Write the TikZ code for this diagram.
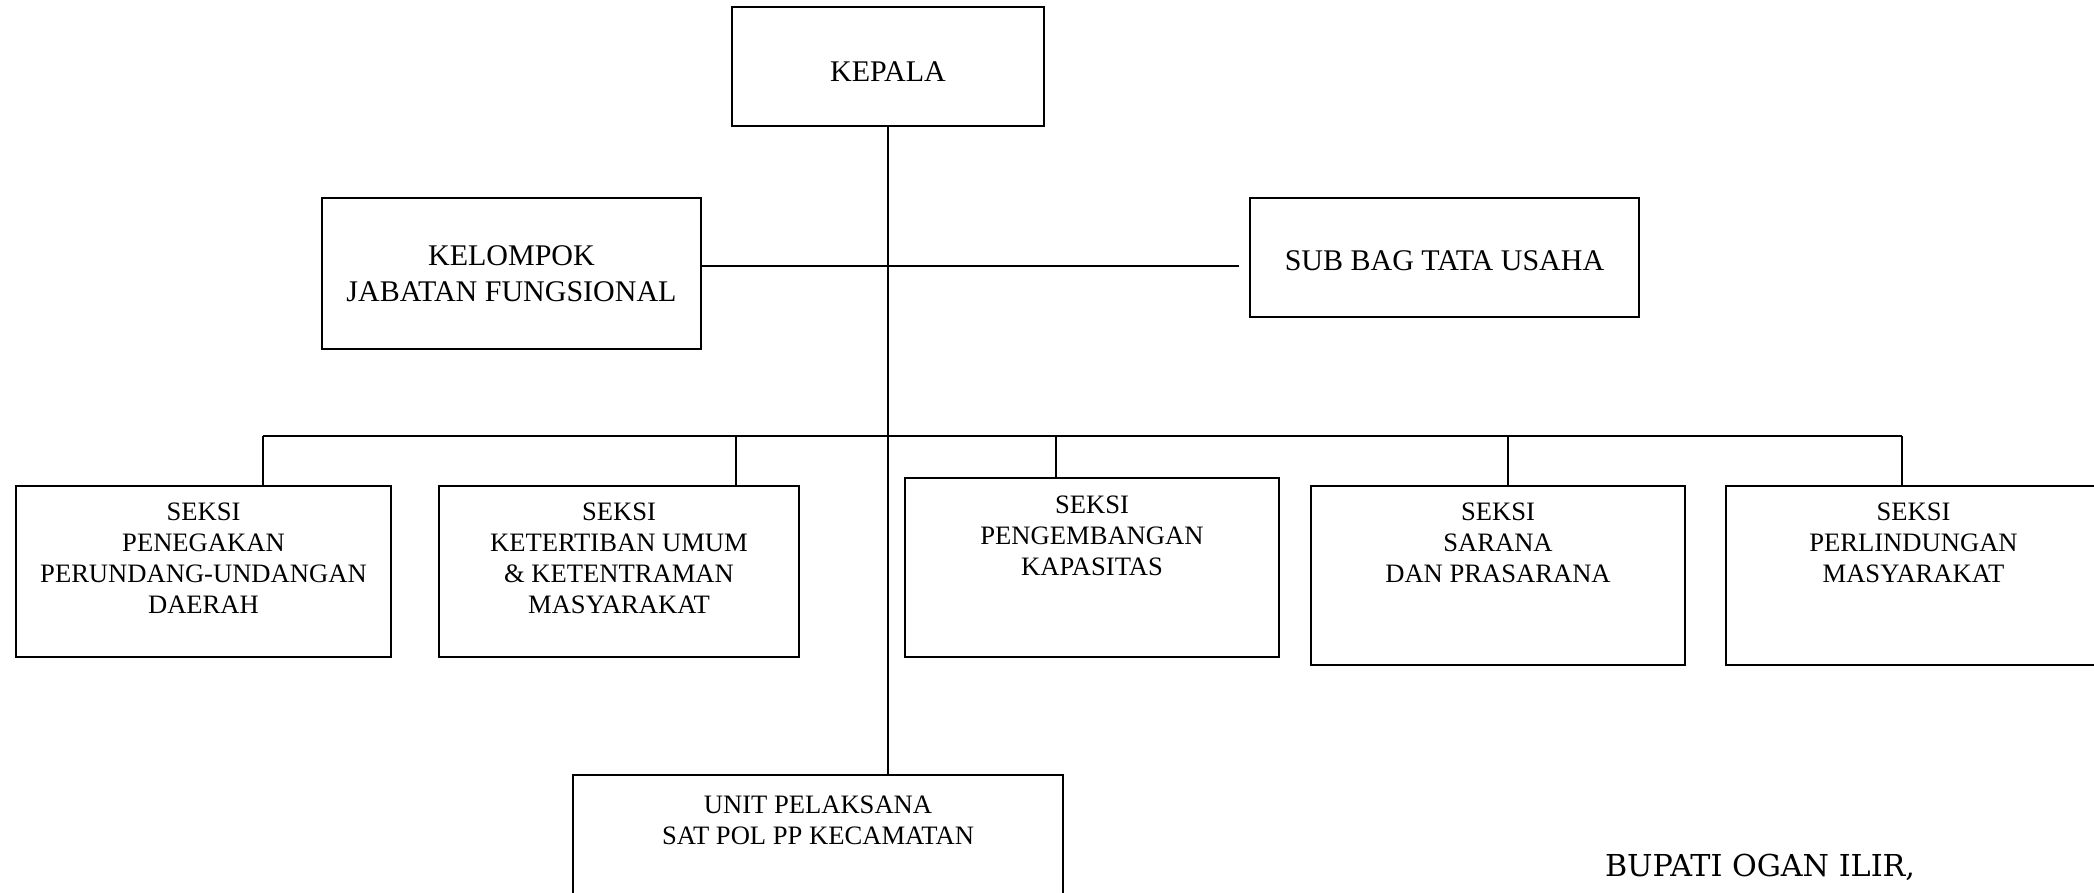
\documentclass[tikz,border=0pt]{standalone}
\usepackage{fontspec}
\setmainfont{Liberation Serif}
\newfontfamily\bupatifont{DejaVu Serif}
\usetikzlibrary{positioning}
\tikzset{
  unitbox/.style={draw=black,line width=0.8pt,rectangle,anchor=north west,outer sep=0pt,inner sep=0pt},% org box
  lbl/.style={align=center,inner sep=0pt,font=\fontsize{13.3}{15.6}\selectfont},% seksi text
  toplbl/.style={align=center,font=\fontsize{15}{18}\selectfont},% upper box text
  link/.style={black,line width=0.6pt},
  bus/.style={black,line width=1pt},
}
\begin{document}
\begin{tikzpicture}[x=0.5pt,y=-0.5pt]
  \useasboundingbox (0,0) rectangle (2094,893);
  % top level
  \node[unitbox,toplbl,text height=15.4pt,minimum width=156pt,minimum height=59.5pt] (kepala) at (732,7) {KEPALA};
  \node[unitbox,toplbl,minimum width=189.5pt,minimum height=75.5pt] (kel) at (322,198) {KELOMPOK\\JABATAN FUNGSIONAL};
  \node[unitbox,toplbl,text height=13.5pt,minimum width=194.5pt,minimum height=59.5pt] (sub) at (1250,198) {SUB BAG TATA USAHA};
  % seksi row
  \node[unitbox,minimum width=187.5pt,minimum height=85.5pt] (s1) at (16,486) {};
  \node[unitbox,minimum width=180pt,minimum height=85.5pt] (s2) at (439,486) {};
  \node[unitbox,minimum width=187pt,minimum height=89.5pt] (s3) at (905,478) {};
  \node[unitbox,minimum width=187pt,minimum height=89.5pt] (s4) at (1311,486) {};
  \node[unitbox,minimum width=187.5pt,minimum height=89.5pt] (s5) at (1726,486) {};
  \node[lbl,below=8pt of s1.north] {SEKSI\\PENEGAKAN\\PERUNDANG-UNDANGAN\\DAERAH};
  \node[lbl,below=8pt of s2.north] {SEKSI\\KETERTIBAN UMUM\\\& KETENTRAMAN\\MASYARAKAT};
  \node[lbl,below=8.5pt of s3.north] {SEKSI\\PENGEMBANGAN\\KAPASITAS};
  \node[lbl,below=8pt of s4.north] {SEKSI\\SARANA\\DAN PRASARANA};
  \node[lbl,below=8pt of s5.north] {SEKSI\\PERLINDUNGAN\\MASYARAKAT};
  % bottom unit
  \node[unitbox,minimum width=245pt,minimum height=70pt] (unit) at (573,775) {};
  \node[lbl,below=10pt of unit.north] {UNIT PELAKSANA\\SAT POL PP KECAMATAN};
  \node[font=\bupatifont\fontsize{15.1}{18}\selectfont,inner sep=0pt] (bupati) at (1760,867) {BUPATI OGAN ILIR,};
  % connectors
  \coordinate (jab) at (888,266);
  \draw[link] (kepala.south) -- (kepala.south |- unit.north);
  \draw[link,shorten >=5.5pt] (kel.east |- jab) -- (sub.west |- jab);
  \foreach \n/\x in {1/263,2/736,3/1056,4/1508,5/1902} {
    \coordinate (b\n) at (\x,436);
    \draw[link] (b\n) -- (b\n |- s\n.north);
  }
  \draw[bus] (b1) -- (b5);
\end{tikzpicture}
\end{document}
